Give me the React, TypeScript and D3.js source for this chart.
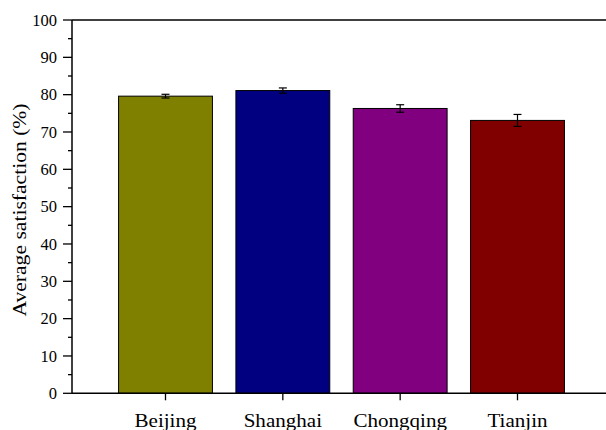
import React from "react";
import * as d3 from "d3";

const categories = ["Beijing", "Shanghai", "Chongqing", "Tianjin"];
const values = [79.6, 81.1, 76.3, 73.1];
const errors = [0.5, 0.7, 1.0, 1.6];
const colors = ["#808000", "#000080", "#800080", "#800000"];
const majorTicks = [0, 10, 20, 30, 40, 50, 60, 70, 80, 90, 100];
const minorTicks = [5, 15, 25, 35, 45, 55, 65, 75, 85, 95];

const W = 606;
const H = 430;
const left = 72;
const right = 606;
const top = 20;
const bottom = 393.3;
const FONT = "'Liberation Serif', 'Times New Roman', Times, serif";

export default function App() {
  const y = d3.scaleLinear().domain([0, 100]).range([bottom, top]);
  const x = d3.scaleLinear().domain([0, categories.length - 1]).range([165.5, 517.5]);
  const step = x(1) - x(0);
  const barW = step * 0.8;

  return (
    <svg
      width={W}
      height={H}
      style={{ position: "absolute", left: 0, top: 0, background: "#fff" }}
      fontFamily={FONT}
    >
      <rect x={0} y={0} width={W} height={H} fill="#fff" />
      {/* bars */}
      {values.map((v, i) => (
        <rect
          key={"b" + i}
          x={x(i) - barW / 2}
          y={y(v)}
          width={barW}
          height={y(0) - y(v)}
          fill={colors[i]}
          stroke="#000"
          strokeWidth={1}
        />
      ))}
      {/* error bars */}
      {values.map((v, i) => (
        <g key={"e" + i} stroke="#000" strokeWidth={1.2}>
          <line x1={x(i)} x2={x(i)} y1={y(v + errors[i])} y2={y(v - errors[i])} />
          <line x1={x(i) - 4} x2={x(i) + 4} y1={y(v + errors[i])} y2={y(v + errors[i])} />
          <line x1={x(i) - 4} x2={x(i) + 4} y1={y(v - errors[i])} y2={y(v - errors[i])} />
        </g>
      ))}
      {/* frame */}
      <line x1={left} x2={right} y1={top} y2={top} stroke="#000" strokeWidth={1.3} />
      <line x1={left} x2={right} y1={bottom} y2={bottom} stroke="#000" strokeWidth={1.5} />
      <line x1={left} x2={left} y1={top} y2={bottom} stroke="#000" strokeWidth={1.5} />
      {/* y ticks */}
      {majorTicks.map((t) => (
        <g key={"t" + t}>
          <line x1={left - 9} x2={left} y1={y(t)} y2={y(t)} stroke="#000" strokeWidth={1.3} />
          <text
            x={left - 15}
            y={y(t)}
            dy="0.35em"
            textAnchor="end"
            fontSize={16.5}
            fill="#000"
          >
            {t}
          </text>
        </g>
      ))}
      {minorTicks.map((t) => (
        <line key={"m" + t} x1={left - 4} x2={left} y1={y(t)} y2={y(t)} stroke="#000" strokeWidth={1.3} />
      ))}
      {/* x ticks & labels */}
      {categories.map((c, i) => (
        <g key={"x" + i}>
          <line x1={x(i)} x2={x(i)} y1={bottom} y2={bottom + 7} stroke="#000" strokeWidth={1.3} />
          <g transform={`translate(${x(i)},${426.5}) scale(1.17,1)`}>
            <text x={0} y={0} textAnchor="middle" fontSize={18} fill="#000">
              {c}
            </text>
          </g>
        </g>
      ))}
      {/* y title */}
      <g transform={`translate(26,${210}) rotate(-90) scale(1.2,1)`}>
        <text x={0} y={0} textAnchor="middle" fontSize={18} fill="#000">
          Average satisfaction (%)
        </text>
      </g>
    </svg>
  );
}
